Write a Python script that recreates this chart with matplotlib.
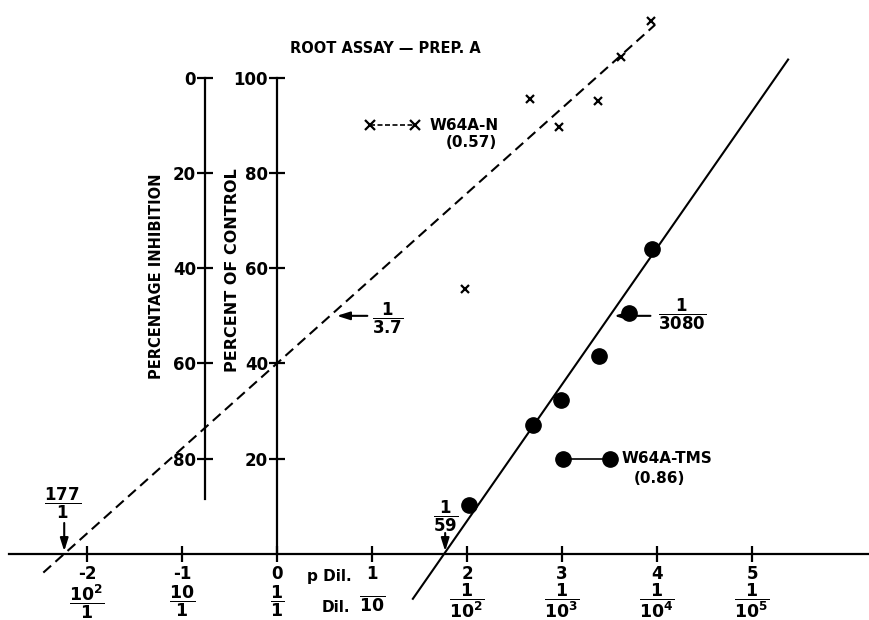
import matplotlib
matplotlib.use("Agg")
import matplotlib.pyplot as plt

# log dilution (p Dil.) vs percent of control
pdil_n = [1.98, 2.66, 2.97, 3.38, 3.62, 3.94]
ctrl_n = [55.6, 95.5, 89.7, 95.0, 104.4, 111.8]
pdil_tms = [2.02, 2.69, 2.99, 3.39, 3.71, 3.95]
ctrl_tms = [10.3, 27.1, 32.3, 41.6, 50.7, 64.0]

# fitted lines (end points)
fit_n_x = [-2.46, 3.98]
fit_n_y = [-3.9, 111.1]
fit_tms_x = [1.43, 5.38]
fit_tms_y = [-9.4, 103.8]

# legend samples
key_n_x = [0.98, 1.45]
key_n_y = [90, 90]
key_tms_x = [3.01, 3.505]
key_tms_y = [20, 20]

pdil_ticks = [-2, -1, 0, 1, 2, 3, 4, 5]
pdil_labels = ["-2", "-1", "0", "1", "2", "3", "4", "5"]
dil_labels = [r"$\dfrac{10^2}{1}$", r"$\dfrac{10}{1}$", r"$\dfrac{1}{1}$", r"$\dfrac{\ }{10}$",
              r"$\dfrac{1}{10^2}$", r"$\dfrac{1}{10^3}$", r"$\dfrac{1}{10^4}$", r"$\dfrac{1}{10^5}$"]
dil_label_y = [-10.0, -9.9, -9.9, -10.2, -9.9, -9.9, -9.9, -9.9]

control_ticks = [20, 40, 60, 80, 100]
inhibition_ticks = [0, 20, 40, 60, 80]

plt.rcParams["font.family"] = "DejaVu Sans"
plt.rcParams["font.weight"] = "bold"
plt.rcParams["font.size"] = 11
plt.rcParams["mathtext.fontset"] = "dejavusans"
plt.rcParams["mathtext.default"] = "bf"

fig = plt.figure(figsize=(8.7, 6.2), dpi=100)
ax = fig.add_axes([0, 0, 1, 1])
ax.set_xlim(-2.916, 6.242)
ax.set_ylim(-13.85, 116.3)
ax.patch.set_visible(False)

for s in ["top", "right"]:
    ax.spines[s].set_visible(False)
ax.spines["left"].set_position(("data", 0))
ax.spines["left"].set_bounds(0, 100)
ax.spines["bottom"].set_position(("data", 0))
ax.spines["bottom"].set_bounds(-2.82, 6.242)
for s in ["left", "bottom"]:
    ax.spines[s].set_linewidth(1.6)

ax.set_xticks(pdil_ticks)
ax.set_xticklabels(pdil_labels)
ax.set_yticks(control_ticks)
ax.tick_params(axis="x", direction="inout", length=12, width=1.6, pad=2, labelsize=12)
ax.tick_params(axis="y", direction="inout", length=11, width=1.6, pad=1, labelsize=12)

# percentage inhibition scale (inverse of percent of control)
ax2 = ax.twinx()
ax2.set_ylim(100 + 13.85, 100 - 116.3)
for s in ["top", "right", "bottom"]:
    ax2.spines[s].set_visible(False)
ax2.spines["left"].set_position(("data", -0.758))
ax2.spines["left"].set_bounds(0, 88.5)
ax2.spines["left"].set_linewidth(1.6)
ax2.yaxis.set_ticks_position("left")
ax2.set_yticks(inhibition_ticks)
ax2.tick_params(axis="y", direction="inout", length=11, width=1.6, pad=1, labelsize=12)

# data and fits
ax.plot(fit_n_x, fit_n_y, color="black", lw=1.5, dashes=(5, 2.8))
ax.plot(fit_tms_x, fit_tms_y, color="black", lw=1.5)
ax.plot(pdil_n, ctrl_n, "x", color="black", ms=6, mew=1.6)
ax.plot(pdil_tms, ctrl_tms, "o", color="black", ms=11)

# keys
ax.plot(key_n_x, key_n_y, color="black", lw=1.2, dashes=(3, 1.5), marker="x", ms=7, mew=1.6)
ax.text(1.61, 90, "W64A-N", ha="left", va="center")
ax.text(2.05, 86.3, "(0.57)", ha="center", va="center")
ax.plot(key_tms_x, key_tms_y, color="black", lw=1.2, marker="o", ms=11)
ax.text(3.63, 20, "W64A-TMS", ha="left", va="center")
ax.text(4.03, 15.9, "(0.86)", ha="center", va="center")

ax.text(1.137, 106.2, "ROOT ASSAY \u2014 PREP. A", ha="center", va="center", fontsize=10.5)
ax.text(-1.266, 58.3, "PERCENTAGE INHIBITION", rotation=90, ha="center", va="center", fontsize=10.5)
ax.text(-0.47, 59.7, "PERCENT OF CONTROL", rotation=90, ha="center", va="center", fontsize=11.5)

# dilution labels
for x, lab, y in zip(pdil_ticks, dil_labels, dil_label_y):
    ax.text(x, y, lab, ha="center", va="center", fontsize=12.5)
ax.text(0.316, -4.8, "p Dil.", ha="left", va="center", fontsize=11)
ax.text(0.47, -11.3, "Dil.", ha="left", va="center", fontsize=11)

# end-point arrows
arrow = dict(arrowstyle="-|>,head_length=0.7,head_width=0.22", color="black", lw=1.5)
ax.annotate("", xy=(-2.24, 0), xytext=(-2.24, 7.1), arrowprops=arrow)
ax.text(-2.26, 10.7, r"$\dfrac{177}{1}$", ha="center", va="center", fontsize=12)
ax.annotate("", xy=(1.77, 0), xytext=(1.77, 5.0), arrowprops=arrow)
ax.text(1.77, 7.8, r"$\dfrac{1}{59}$", ha="center", va="center", fontsize=12)
ax.annotate("", xy=(0.60, 50), xytext=(0.98, 50), arrowprops=arrow)
ax.text(1.17, 49.5, r"$\dfrac{1}{3.7}$", ha="center", va="center", fontsize=12)
ax.annotate("", xy=(3.52, 50), xytext=(3.96, 50), arrowprops=arrow)
ax.text(4.26, 50.4, r"$\dfrac{1}{3080}$", ha="center", va="center", fontsize=12)

fig.savefig("out.png", dpi=100)
